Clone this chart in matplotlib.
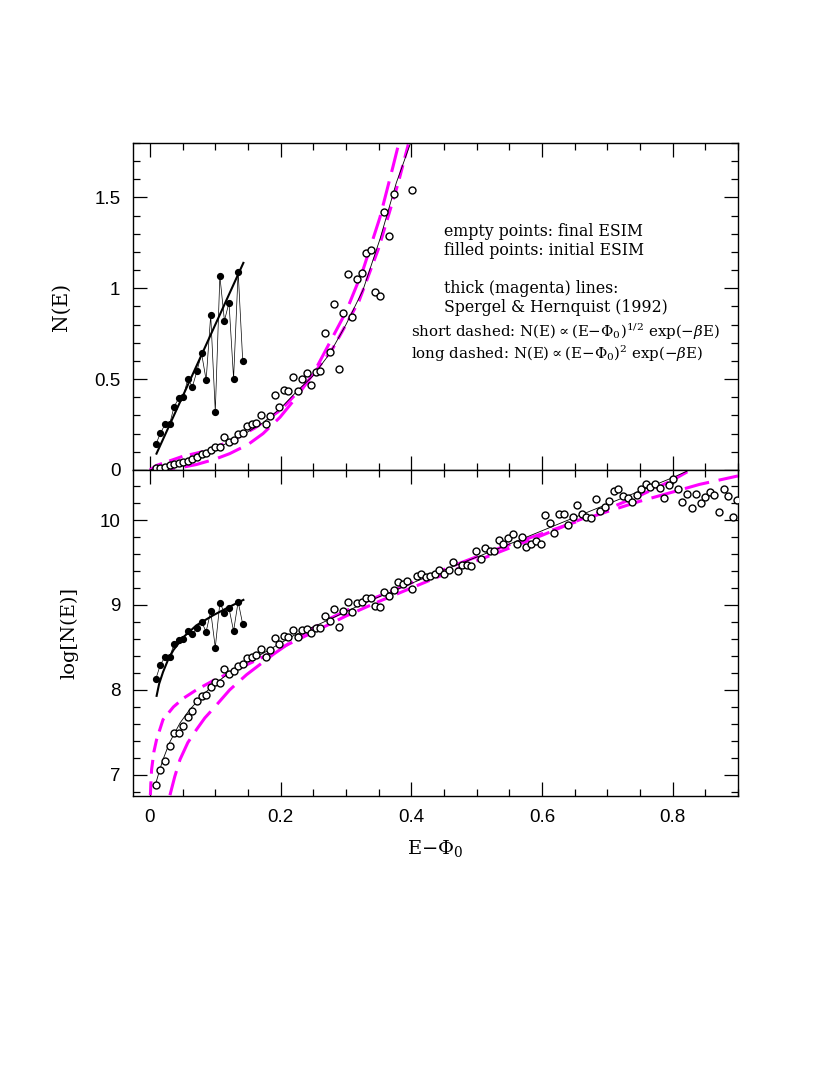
import matplotlib
matplotlib.use("Agg")
import matplotlib.pyplot as plt
from matplotlib.ticker import MultipleLocator, FuncFormatter

MAGENTA = "#ff00ff"

# energy grid of the final ESIM points (E - Phi_0)
x_final = [
    0.009, 0.016, 0.023, 0.030, 0.037, 0.044, 0.051, 0.058, 0.065, 0.072,
    0.079, 0.086, 0.093, 0.100, 0.107, 0.114, 0.121, 0.128, 0.135, 0.142,
    0.149, 0.156, 0.163, 0.170, 0.177, 0.184, 0.191, 0.198, 0.205, 0.212,
    0.219, 0.226, 0.233, 0.240, 0.247, 0.254, 0.261, 0.268, 0.275, 0.282,
    0.289, 0.296, 0.303, 0.310, 0.317, 0.324, 0.331, 0.338, 0.345, 0.352,
    0.359, 0.366, 0.373, 0.380, 0.387, 0.394, 0.401, 0.408, 0.415, 0.422,
    0.429, 0.436, 0.443, 0.450, 0.457, 0.464, 0.471, 0.478, 0.485, 0.492,
    0.499, 0.506, 0.513, 0.520, 0.527, 0.534, 0.541, 0.548, 0.555, 0.562,
    0.569, 0.576, 0.584, 0.591, 0.598, 0.605, 0.612, 0.619, 0.626, 0.633,
    0.640, 0.647, 0.654, 0.661, 0.668, 0.675, 0.682, 0.689, 0.696, 0.703,
    0.710, 0.717, 0.724, 0.731, 0.738, 0.745, 0.752, 0.759, 0.766, 0.773,
    0.780, 0.787, 0.794, 0.801, 0.808, 0.815, 0.822, 0.829, 0.836, 0.843,
    0.850, 0.857, 0.864, 0.871, 0.878, 0.885, 0.892, 0.899,
]
logn_final = [
    6.882, 7.059, 7.165, 7.341, 7.490, 7.498, 7.580, 7.675, 7.749, 7.871,
    7.929, 7.941, 8.035, 8.094, 8.086, 8.247, 8.184, 8.224, 8.286, 8.306,
    8.373, 8.392, 8.412, 8.478, 8.392, 8.471, 8.608, 8.537, 8.639, 8.627,
    8.702, 8.627, 8.702, 8.722, 8.667, 8.729, 8.733, 8.875, 8.808, 8.953,
    8.737, 8.933, 9.031, 8.918, 9.020, 9.035, 9.078, 9.082, 8.992, 8.976,
    9.149, 9.106, 9.180, 9.275, 9.243, 9.286, 9.184, 9.337, 9.365, 9.333,
    9.345, 9.369, 9.416, 9.365, 9.416, 9.502, 9.400, 9.471, 9.467, 9.455,
    9.631, 9.545, 9.667, 9.631, 9.635, 9.761, 9.718, 9.788, 9.835, 9.722,
    9.804, 9.686, 9.714, 9.753, 9.722, 10.059, 9.969, 9.851, 10.071, 10.071,
    9.941, 10.031, 10.180, 10.071, 10.039, 10.020, 10.247, 10.102, 10.149, 10.227,
    10.337, 10.361, 10.282, 10.255, 10.212, 10.298, 10.361, 10.424, 10.384, 10.424,
    10.376, 10.263, 10.412, 10.482, 10.365, 10.208, 10.302, 10.137, 10.310, 10.204,
    10.275, 10.325, 10.298, 10.098, 10.361, 10.282, 10.039, 10.235,
]

# final ESIM in linear units (points above 1.8 are off the panel)
x_final_lin = [
    0.009, 0.016, 0.023, 0.030, 0.037, 0.044, 0.051, 0.058, 0.065, 0.072,
    0.079, 0.086, 0.093, 0.100, 0.107, 0.114, 0.121, 0.128, 0.135, 0.142,
    0.149, 0.156, 0.163, 0.170, 0.177, 0.184, 0.191, 0.198, 0.205, 0.212,
    0.219, 0.226, 0.233, 0.240, 0.247, 0.254, 0.261, 0.268, 0.275, 0.282,
    0.289, 0.296, 0.303, 0.310, 0.317, 0.324, 0.331, 0.338, 0.345, 0.352,
    0.359, 0.366, 0.373, 0.401,
]
n_final = [
    0.009, 0.013, 0.018, 0.026, 0.033, 0.037, 0.044, 0.050, 0.061, 0.070,
    0.086, 0.092, 0.110, 0.128, 0.128, 0.183, 0.156, 0.165, 0.196, 0.202,
    0.242, 0.251, 0.261, 0.303, 0.251, 0.297, 0.413, 0.345, 0.440, 0.435,
    0.510, 0.435, 0.501, 0.532, 0.468, 0.541, 0.545, 0.756, 0.651, 0.914,
    0.556, 0.862, 1.079, 0.844, 1.050, 1.083, 1.196, 1.209, 0.982, 0.958,
    1.420, 1.290, 1.519, 1.541,
]

# initial ESIM
x_init = [
    0.009, 0.016, 0.023, 0.030, 0.037, 0.044, 0.051, 0.058, 0.065, 0.072,
    0.079, 0.086, 0.093, 0.100, 0.107, 0.114, 0.121, 0.128, 0.135, 0.142,
]
n_init = [
    0.141, 0.202, 0.251, 0.251, 0.349, 0.394, 0.404, 0.501, 0.459, 0.545,
    0.642, 0.495, 0.853, 0.321, 1.068, 0.822, 0.921, 0.503, 1.092, 0.600,
]
logn_init = [
    8.129, 8.298, 8.388, 8.388, 8.537, 8.584, 8.600, 8.698, 8.659, 8.729,
    8.800, 8.686, 8.925, 8.498, 9.024, 8.910, 8.961, 8.694, 9.039, 8.773,
]

# fits to the initial ESIM (thick black)
x_fit_init = [0.010, 0.076, 0.143]
n_fit_init = [0.09, 0.61, 1.14]
x_fit_init_log = [0.0102, 0.014, 0.020, 0.028, 0.036, 0.051, 0.071, 0.097, 0.122, 0.143]
logn_fit_init = [7.93, 8.07, 8.21, 8.36, 8.47, 8.62, 8.76, 8.88, 8.98, 9.06]

# fits to the final ESIM (thin black)
x_fit_final = [0.0, 0.02, 0.05, 0.071, 0.10, 0.122, 0.15, 0.173, 0.20, 0.224,
               0.25, 0.275, 0.30, 0.326, 0.352, 0.377, 0.399]
n_fit_final = [0.0, 0.02, 0.05, 0.075, 0.115, 0.155, 0.21, 0.26, 0.34, 0.43,
               0.52, 0.64, 0.80, 0.99, 1.27, 1.58, 1.80]
x_fit_final_log = [0.009, 0.015, 0.020, 0.030, 0.046, 0.060, 0.080, 0.097, 0.120, 0.150,
                   0.173, 0.220, 0.275, 0.330, 0.377, 0.430, 0.479, 0.535, 0.586, 0.640,
                   0.688, 0.749, 0.800, 0.823]
logn_fit_final = [6.90, 7.06, 7.18, 7.38, 7.61, 7.76, 7.93, 8.06, 8.19, 8.34,
                  8.43, 8.64, 8.83, 9.03, 9.18, 9.35, 9.50, 9.67, 9.83, 10.00,
                  10.15, 10.34, 10.50, 10.58]

# Spergel & Hernquist forms: short dashed (E-Phi0)^1/2, long dashed (E-Phi0)^2
x_sd = [0.0, 0.01, 0.03, 0.05, 0.08, 0.10, 0.13, 0.16, 0.20, 0.24, 0.28, 0.32, 0.35, 0.38, 0.396]
n_sd = [0.0, 0.025, 0.05, 0.075, 0.10, 0.125, 0.17, 0.23, 0.33, 0.48, 0.67, 0.93, 1.22, 1.58, 1.80]
x_ld = [0.0, 0.02, 0.05, 0.071, 0.10, 0.122, 0.15, 0.173, 0.199, 0.224,
        0.25, 0.275, 0.30, 0.326, 0.352, 0.372, 0.381]
n_ld = [0.0, 0.003, 0.015, 0.03, 0.06, 0.09, 0.14, 0.20, 0.29, 0.40,
        0.53, 0.70, 0.87, 1.10, 1.39, 1.67, 1.80]

x_sd_log = [0.0006, 0.0025, 0.006, 0.010, 0.020, 0.036, 0.051, 0.071, 0.097, 0.122,
            0.163, 0.199, 0.25, 0.30, 0.35, 0.40, 0.45, 0.50, 0.55, 0.60,
            0.65, 0.70, 0.75, 0.80, 0.825]
logn_sd = [6.76, 7.06, 7.27, 7.41, 7.65, 7.80, 7.90, 8.00, 8.11, 8.20,
           8.35, 8.49, 8.68, 8.87, 9.04, 9.20, 9.36, 9.52, 9.67, 9.82,
           9.98, 10.13, 10.29, 10.47, 10.58]
x_ld_log = [0.0306, 0.038, 0.046, 0.058, 0.071, 0.084, 0.097, 0.122, 0.148, 0.189,
            0.23, 0.275, 0.33, 0.40, 0.47, 0.535, 0.60, 0.637, 0.70, 0.749,
            0.80, 0.841, 0.90]
logn_ld = [6.76, 6.98, 7.18, 7.38, 7.53, 7.67, 7.78, 8.00, 8.18, 8.42,
           8.64, 8.84, 9.04, 9.26, 9.48, 9.67, 9.84, 9.94, 10.10, 10.22,
           10.33, 10.42, 10.52]

# (x, y, text, fontsize)
legend_lines = [
    (0.45, 1.31, "empty points: final ESIM", 11.3),
    (0.45, 1.207, "filled points: initial ESIM", 11.3),
    (0.45, 1.00, "thick (magenta) lines:", 11.3),
    (0.45, 0.895, "Spergel & Hernquist (1992)", 11.3),
    (0.40, 0.758, r"short dashed: N(E)$\propto$(E$-\Phi_0$)$^{1/2}$ exp($-\beta$E)", 10.8),
    (0.40, 0.638, r"long dashed: N(E)$\propto$(E$-\Phi_0$)$^{2}$ exp($-\beta$E)", 10.8),
]

SHORT_DASH = (10, 5.5)
LONG_DASH = (18, 7)


def style_axis(ax, ymajor, yminor):
    ax.xaxis.set_major_locator(MultipleLocator(0.2))
    ax.xaxis.set_minor_locator(MultipleLocator(0.05))
    ax.yaxis.set_major_locator(MultipleLocator(ymajor))
    ax.yaxis.set_minor_locator(MultipleLocator(yminor))
    ax.tick_params(which="both", direction="in", top=True, right=True, width=0.9,
                   labelsize=13.5, pad=9)
    ax.tick_params(which="major", length=10)
    ax.tick_params(which="minor", length=5)
    for spine in ax.spines.values():
        spine.set_linewidth(1.0)


def draw_curves(ax, x_thin, y_thin, x_sd_, y_sd_, x_ld_, y_ld_):
    ax.plot(x_thin, y_thin, color="black", lw=0.6, zorder=3)
    sd, = ax.plot(x_sd_, y_sd_, color=MAGENTA, lw=2.2, zorder=2)
    sd.set_dashes(SHORT_DASH)
    ld, = ax.plot(x_ld_, y_ld_, color=MAGENTA, lw=2.2, zorder=2)
    ld.set_dashes(LONG_DASH)


def main():
    plt.rcParams["lines.scale_dashes"] = False
    plt.rcParams["mathtext.fontset"] = "dejavuserif"
    plt.rcParams["font.family"] = ["DejaVu Serif"]

    fig = plt.figure(figsize=(8.3, 10.75), dpi=100)
    ax_top = fig.add_axes([0.1602, 0.5628, 0.7289, 0.3042])
    ax_bot = fig.add_axes([0.1602, 0.2595, 0.7289, 0.3033], sharex=ax_top)

    # upper panel: linear N(E)
    draw_curves(ax_top, x_fit_final, n_fit_final, x_sd, n_sd, x_ld, n_ld)
    ax_top.plot(x_init, n_init, color="black", lw=0.5, zorder=3)
    ax_top.plot(x_fit_init, n_fit_init, color="black", lw=1.5, zorder=3)
    ax_top.plot(x_init, n_init, "o", color="black", ms=4.2, zorder=4)
    ax_top.plot(x_final_lin, n_final, "o", mfc="white", mec="black", mew=1.0, ms=5,
                zorder=4, clip_on=False)
    ax_top.set_xlim(-0.026, 0.9)
    ax_top.set_ylim(0, 1.8)
    style_axis(ax_top, 0.5, 0.1)
    ax_top.yaxis.set_major_formatter(FuncFormatter(lambda v, p: f"{v:g}"))
    plt.setp(ax_top.get_xticklabels(), visible=False)
    ax_top.set_ylabel("N(E)", fontsize=14.5)
    ax_top.yaxis.set_label_coords(-0.103, 0.5)
    for tx, ty, s, fs in legend_lines:
        ax_top.text(tx, ty, s, fontsize=fs, ha="left", va="center")

    # lower panel: log N(E)
    draw_curves(ax_bot, x_fit_final_log, logn_fit_final, x_sd_log, logn_sd, x_ld_log, logn_ld)
    ax_bot.plot(x_init, logn_init, color="black", lw=0.5, zorder=3)
    ax_bot.plot(x_fit_init_log, logn_fit_init, color="black", lw=1.5, zorder=3)
    ax_bot.plot(x_init, logn_init, "o", color="black", ms=4.2, zorder=4)
    ax_bot.plot(x_final, logn_final, "o", mfc="white", mec="black", mew=1.0, ms=5, zorder=4)
    ax_bot.set_ylim(6.75, 10.59)
    style_axis(ax_bot, 1, 0.2)
    ax_bot.xaxis.set_major_formatter(FuncFormatter(lambda v, p: "0" if abs(v) < 1e-9 else f"{v:.1f}"))
    ax_bot.yaxis.set_major_formatter(FuncFormatter(lambda v, p: f"{v:g}"))
    ax_bot.set_ylabel("log[N(E)]", fontsize=14)
    ax_bot.yaxis.set_label_coords(-0.09, 0.5)
    ax_bot.set_xlabel(r"E$-\Phi_0$", fontsize=14)
    ax_bot.xaxis.set_label_coords(0.5, -0.128)
    ax_bot.set_xlim(-0.026, 0.9)

    for label in ax_top.get_yticklabels() + ax_bot.get_xticklabels() + ax_bot.get_yticklabels():
        label.set_family("Liberation Sans")

    fig.savefig("out.png", dpi=100)


if __name__ == "__main__":
    main()
